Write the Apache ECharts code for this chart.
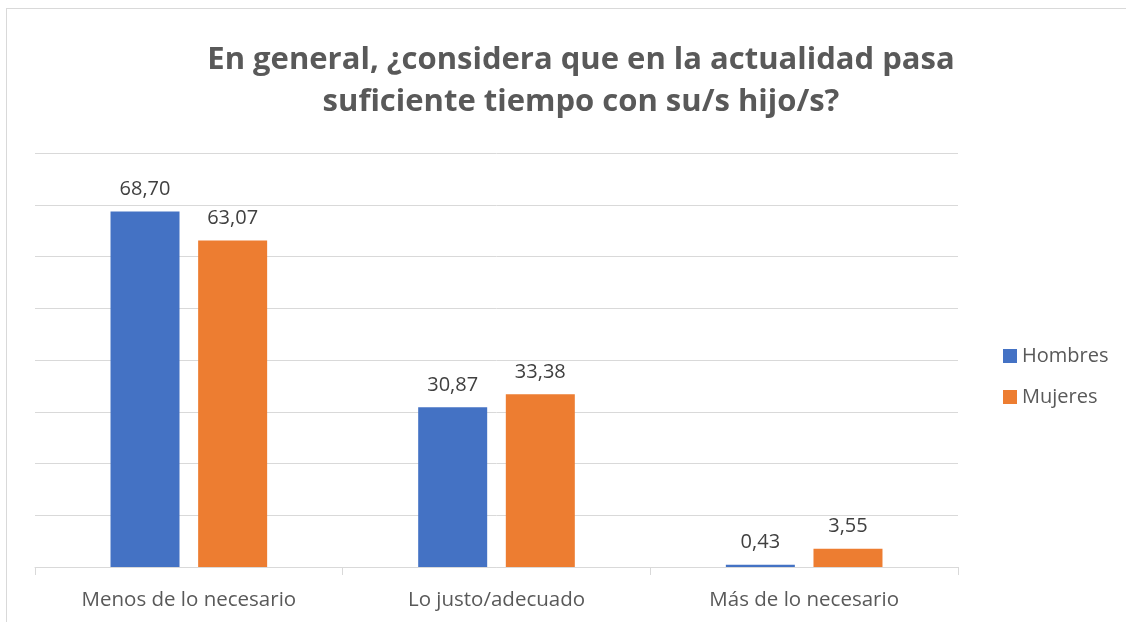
<!DOCTYPE html>
<html>
<head>
<meta charset="utf-8">
<script src="https://cdn.jsdelivr.net/npm/echarts@6/dist/echarts.min.js"></script>
<style>
  html, body { margin: 0; padding: 0; background: #fff; overflow: hidden; }
  #frame { position: absolute; left: 6px; top: 8px; right: -200px; bottom: -200px; border-left: 1px solid #d9d9d9; border-top: 1px solid #d9d9d9; }
  #main { position: absolute; left: 0; top: 0; width: 1126px; height: 622px; }
</style>
</head>
<body>
<div id="frame"></div>
<div id="main"></div>
<script>
var categories = ['Menos de lo necesario', 'Lo justo/adecuado', 'Más de lo necesario'];
var hombres = [68.70, 30.87, 0.43];
var mujeres = [63.07, 33.38, 3.55];

var myChart = echarts.init(document.getElementById('main'));

function fmt(p) {
  return p.value.toFixed(2).replace('.', ',');
}

var labelStyle = {
  show: true,
  position: 'top',
  distance: 12,
  color: '#404040',
  fontSize: 20,
  fontFamily: 'Open Sans',
  formatter: fmt
};

var option = {
  backgroundColor: 'transparent',
  title: {
    text: 'En general, ¿considera que en la actualidad pasa\nsuficiente tiempo con su/s hijo/s?',
    left: 576,
    textAlign: 'center',
    top: 34,
    textStyle: {
      color: '#595959',
      fontSize: 31,
      fontWeight: 'bold',
      fontFamily: 'Open Sans',
      lineHeight: 42
    }
  },
  legend: {
    orient: 'vertical',
    left: 998,
    top: 341,
    itemWidth: 14,
    itemHeight: 14,
    itemGap: 21,
    icon: 'rect',
    textStyle: { color: '#595959', fontSize: 20, fontFamily: 'Open Sans' },
    data: ['Hombres', 'Mujeres']
  },
  grid: { left: 35, right: 168, top: 153, bottom: 55 },
  xAxis: {
    type: 'category',
    data: categories,
    axisLine: { lineStyle: { color: '#d9d9d9', width: 1 } },
    axisTick: { show: true, length: 8, lineStyle: { color: '#d9d9d9' } },
    axisLabel: { color: '#595959', fontSize: 20.5, fontFamily: 'Open Sans', margin: 23 }
  },
  yAxis: {
    type: 'value',
    min: 0,
    max: 80,
    interval: 10,
    axisLabel: { show: false },
    axisLine: { show: false },
    axisTick: { show: false },
    splitLine: { lineStyle: { color: '#d9d9d9', width: 1 } }
  },
  series: [
    {
      name: 'Hombres',
      type: 'bar',
      data: hombres,
      barWidth: 69,
      barGap: '27%',
      itemStyle: { color: '#4472c4' },
      label: labelStyle
    },
    {
      name: 'Mujeres',
      type: 'bar',
      data: mujeres,
      barWidth: 69,
      itemStyle: { color: '#ed7d31' },
      label: labelStyle
    }
  ]
};

myChart.setOption(option, true);
</script>
</body>
</html>
